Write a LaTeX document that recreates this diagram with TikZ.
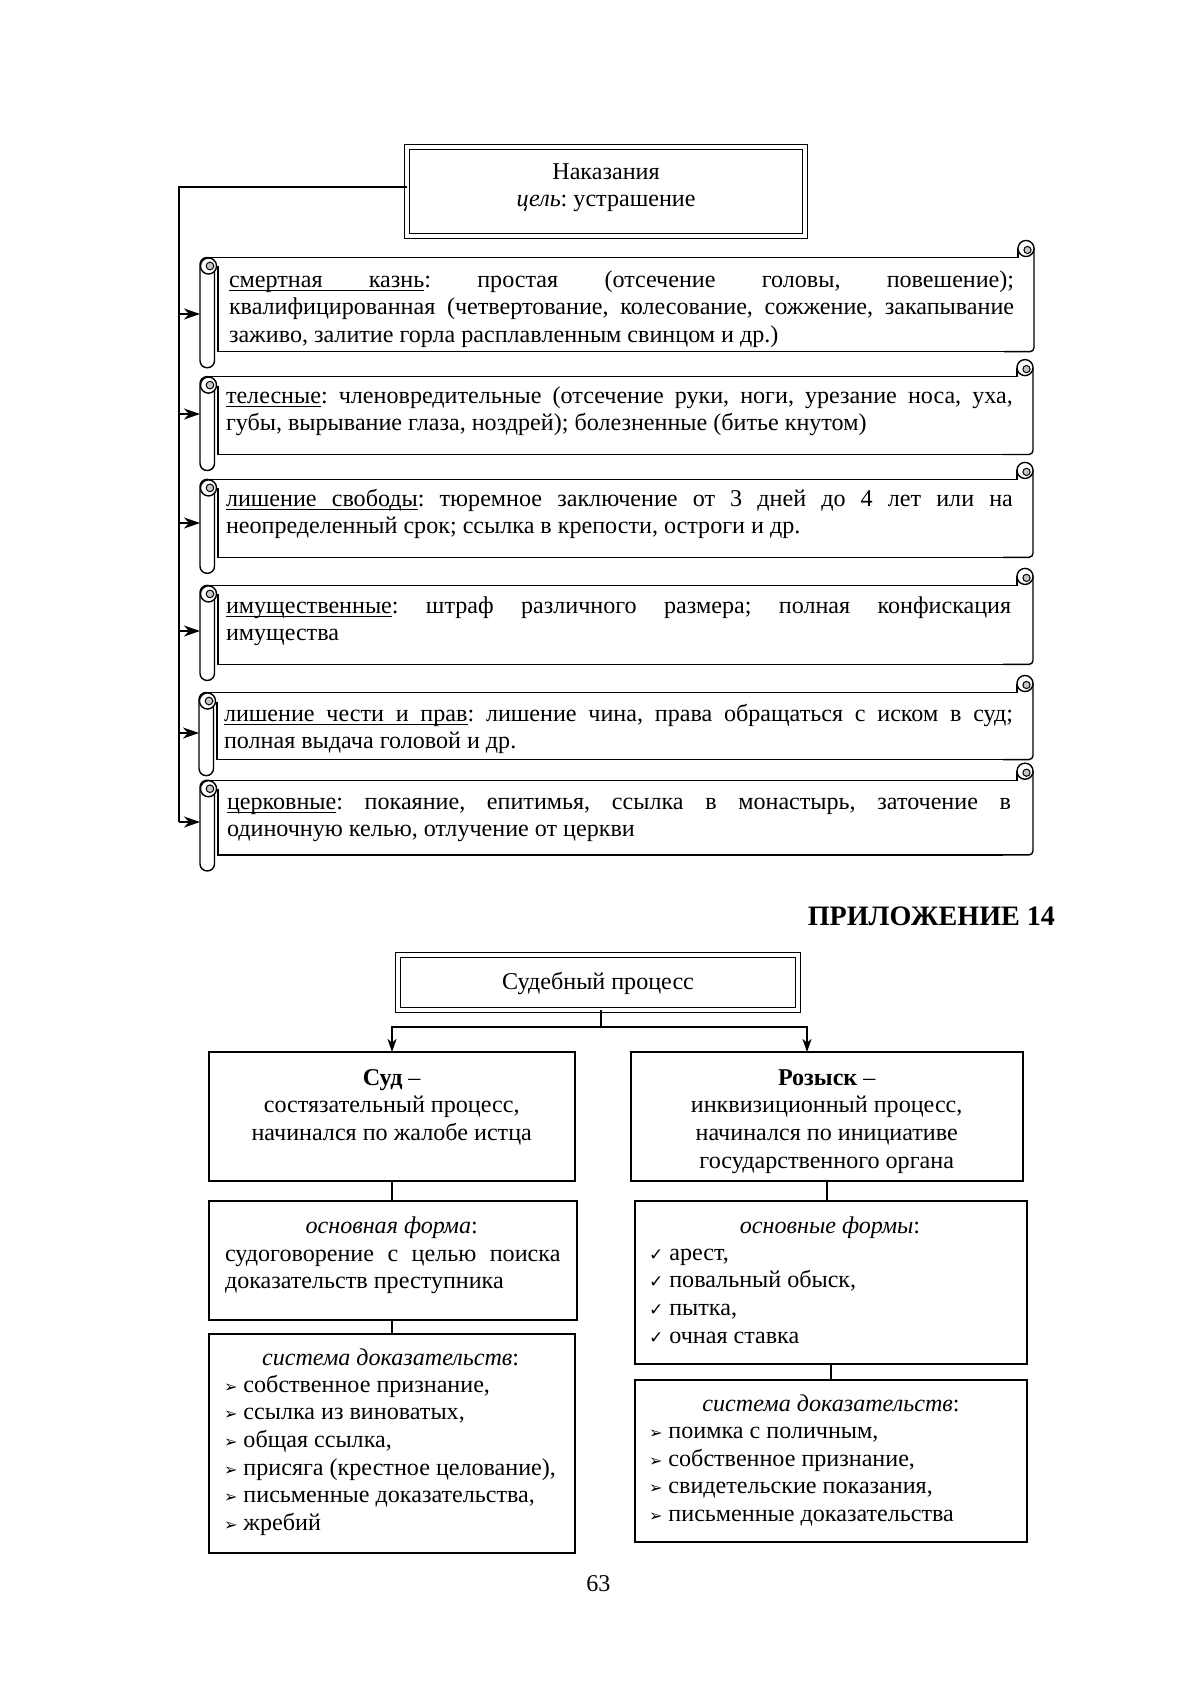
\documentclass[tikz,border=0pt]{standalone}
\usepackage{fontspec}
\setmainfont{Liberation Serif}
\newfontfamily\symfont{DejaVu Sans}
\usetikzlibrary{arrows.meta,fit}
\newcommand\bul{{\symfont\fontsize{8}{8}\selectfont ➢}}
\newcommand\chk{{\symfont\fontsize{8.5}{8.5}\selectfont ✓}}
\newcommand\ulw[1]{\setbox0\hbox{#1}\rlap{\vrule height -1.5pt depth 2.0pt width \wd0}\box0}
\newcommand\uls{\leaders\hrule height -1.5pt depth 2.0pt\hskip\fontdimen2\font plus\fontdimen3\font minus\fontdimen4\font\relax}
\newcommand\scrl[4]{%
 \draw ({#1+9},#2) -- ({#3-16},#2) -- ({#3-16},{#2-9});
 \draw[rounded corners=2pt] (#3,{#2-9}) -- (#3,#4) -- ({#3-30},#4);
 \draw ({#3-30},#4) -- ({#1+18},#4) -- ({#1+18},{#2+9});
 \draw[fill=white] ({#3-8},{#2-9}) circle[radius=4pt];
 \draw[fill=gray!45,line width=0.5pt] ({#3-6.5},{#2-7.5}) circle[radius=1.8pt];
 \draw[fill=white,rounded corners=3.5pt] (#1,#2) rectangle ({#1+14.5},{#4+16});
 \draw[fill=white] ({#1+8.5},{#2+8.5}) circle[radius=4pt];
 \draw[fill=gray!45,line width=0.5pt] ({#1+10},{#2+8.5}) circle[radius=1.9pt];
}
\begin{document}
\begin{tikzpicture}[x=0.175mm,y=-0.175mm,line width=0.7pt,
  every node/.style={font=\fontsize{12}{13.8}\selectfont\frenchspacing,inner sep=0pt,outer sep=0pt},
  boxn/.style={draw,line width=0.7pt,inner sep=0pt},
  dbox/.style={draw,double,double distance=1.6pt,line width=0.75pt,inner sep=0pt},
  stext/.style={anchor=north west,align=justify,
    execute at begin node={\hyphenpenalty=10000\tolerance=9999\emergencystretch=3em}},
  arrl/.style={-{Stealth[length=8pt,width=5.5pt,inset=2.5pt]}},
  arrd/.style={-{Stealth[length=6.5pt,width=4.5pt,inset=1.8pt]}}]
\useasboundingbox (0,0) rectangle (1200,1697);

% ---------- upper part ----------
\node[dbox,fit={(407,147) (805,236)}] (top) {};
\node[anchor=north,align=center] (toptext) at (606,159.6)
  {\strut Наказания\\ \textit{цель}: устрашение};

\scrl{200}{257.5}{1034}{351.7}
\scrl{200}{376.6}{1033}{454.5}
\scrl{200}{479.4}{1033}{557.3}
\scrl{200}{585.4}{1033}{664.4}
\scrl{199}{692.5}{1033}{759.6}
\scrl{200}{780.2}{1033}{854.9}

\node[stext,text width=137.4mm] (s1) at (229,267.6)
 {\strut\ulw{смертная}\uls\ulw{казнь}: простая (отсечение головы, повешение);\linebreak
  квалифицированная (четвертование, колесование, сожжение, закапывание\linebreak
  заживо, залитие горла расплавленным свинцом и др.)};
\node[stext,text width=137.7mm] (s2) at (226,383.6)
 {\strut\ulw{телесные}: членовредительные (отсечение руки, ноги, урезание носа, уха,\linebreak
  губы, вырывание глаза, ноздрей); болезненные (битье кнутом)};
\node[stext,text width=137.7mm] (s3) at (226,486.6)
 {\strut\ulw{лишение}\uls\ulw{свободы}: тюремное заключение от 3 дней до 4 лет или на\linebreak
  неопределенный срок; ссылка в крепости, остроги и др.};
\node[stext,text width=137.4mm] (s4) at (226,593.6)
 {\strut\ulw{имущественные}: штраф различного размера; полная конфискация\linebreak
  имущества};
\node[stext,text width=138.1mm] (s5) at (224,701.6)
 {\strut\ulw{лишение}\uls\ulw{чести}\uls\ulw{и}\uls\ulw{прав}: лишение чина, права обращаться с иском в суд;\linebreak
  полная выдача головой и др.};
\node[stext,text width=137.2mm] (s6) at (227,789.6)
 {\strut\ulw{церковные}: покаяние, епитимья, ссылка в монастырь, заточение в\linebreak
  одиночную келью, отлучение от церкви};

\coordinate (trunk) at (179,187);
\coordinate (trunkend) at (179,822);
\coordinate (a1) at (200,314);
\coordinate (a2) at (200,414);
\coordinate (a3) at (200,523);
\coordinate (a4) at (200,631);
\coordinate (a5) at (199,733);
\coordinate (a6) at (200,822);
\draw (top.west |- trunk) -- (trunk) -- (trunkend);
\foreach \i in {1,...,6} \draw[arrl] (trunk |- a\i) -- (a\i);

% ---------- heading ----------
\node[anchor=base east,font=\bfseries\fontsize{14}{16}\selectfont] (app) at (1055,925) {ПРИЛОЖЕНИЕ 14};

% ---------- lower part ----------
\node[dbox,fit={(398,955) (798,1010)}] (sp) {};
\node[anchor=north] (sptext) at (598,970.1) {\strut Судебный процесс};

\node[boxn,fit={(209,1052) (575,1181)}] (sud) {};
\node[boxn,fit={(209,1201) (577,1320)}] (osn) {};
\node[boxn,fit={(209,1334) (575,1553)}] (sys1) {};
\node[boxn,fit={(631,1052) (1023,1181)}] (roz) {};
\node[boxn,fit={(635,1201) (1027,1364)}] (forms) {};
\node[boxn,fit={(635,1380) (1027,1542)}] (sys2) {};

\coordinate (j) at (601,1027);
\coordinate (rozin) at (807,1052);
\draw (sp.south -| j) -- (j);
\draw[arrd] (j) -| (sud.north);
\draw[arrd] (j) -| (rozin);
\draw (sud.south) -- (sud.south |- osn.north);
\draw (osn.south -| sud.south) -- (sud.south |- sys1.north);
\draw (roz.south) -- (roz.south |- forms.north);
\draw (forms.south) -- (forms.south |- sys2.north);

\node[anchor=north,align=center] (sudtext) at (391.7,1065.6)
 {\strut\textbf{Суд} –\\ состязательный процесс,\\ начинался по жалобе истца};
\node[anchor=north,align=center] (roztext) at (826.7,1065.6)
 {\strut\textbf{Розыск} –\\ инквизиционный процесс,\\ начинался по инициативе\\ государственного органа};

\node[anchor=north] (osnh) at (391.7,1213.6) {\strut\textit{основная форма}:};
\node[stext,text width=58.7mm] (osnt) at (225,1241.6)
 {\strut судоговорение с целью поиска\linebreak доказательств преступника};

\node[anchor=north] (formsh) at (830,1213.6) {\strut\textit{основные формы}:};
\node[anchor=north west,align=left] (formst) at (649,1240.6)
 {\strut\chk\ арест,\\ \chk\ повальный обыск,\\ \chk\ пытка,\\ \chk\ очная ставка};

\node[anchor=north] (sys1h) at (390.6,1345.6) {\strut\textit{система доказательств}:};
\node[anchor=north west,align=left] (sys1t) at (224,1372.6)
 {\strut\bul\ собственное признание,\\ \bul\ ссылка из виноватых,\\ \bul\ общая ссылка,\\
  \bul\ присяга (крестное целование),\\ \bul\ письменные доказательства,\\ \bul\ жребий};

\node[anchor=north] (sys2h) at (831,1392.1) {\strut\textit{система доказательств}:};
\node[anchor=north west,align=left] (sys2t) at (649,1419.1)
 {\strut\bul\ поимка с поличным,\\ \bul\ собственное признание,\\ \bul\ свидетельские показания,\\
  \bul\ письменные доказательства};

\node[anchor=north] (pnum) at (598.4,1571.6) {\strut 63};
\end{tikzpicture}
\end{document}
